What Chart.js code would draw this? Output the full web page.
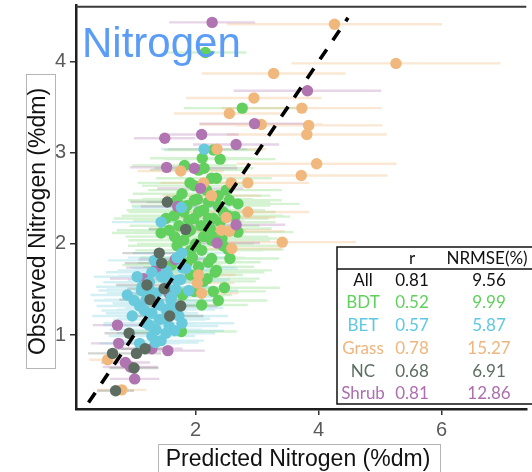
<!DOCTYPE html>
<html><head><meta charset="utf-8">
<script src="https://cdn.jsdelivr.net/npm/chart.js@4/dist/chart.umd.min.js"></script>
<style>html,body{margin:0;padding:0;background:#fff;overflow:hidden}canvas{display:block}</style>
</head><body>
<canvas id="c" width="532" height="472"></canvas>
<script>
// ---- data ----
const panelTitle = 'Nitrogen';
const xTitle = 'Predicted Nitrogen (%dm)';
const yTitle = 'Observed Nitrogen (%dm)';
const xTicks = [2, 4, 6];
const yTicks = [1, 2, 3, 4];
const refLine = [0.26, 4.48];

const bdtX = [2.16,2.76,2.29,2.11,2.40,2.14,2.26,1.91,2.18,1.78, 2.03,2.69,2.64,2.55,2.43,2.26,2.32,2.19,2.10,1.77, 1.95,1.61,2.34,1.79,1.65,1.81,1.97,2.13,2.29,2.45, 1.73,1.92,2.09,2.24,2.40,1.57,1.81,2.00,2.13,1.70, 1.92,2.10,2.26,1.86,2.05,2.13,1.98,2.50,1.98,2.21, 2.37,1.86,1.70,2.53,2.29,2.47,2.56,1.52,1.44, 1.73,1.89,2.05,2.21,2.37,2.53,1.66,1.86,2.29,2.45, 1.98,2.34,2.05,1.82,2.69,2.21,2.37,1.92];
const bdtY = [4.10,3.49,3.03,2.94,2.93,2.83,2.72,2.67,2.59,2.55, 2.49,2.44,2.30,2.48,2.06,2.04,1.69,1.62,1.33,1.04, 1.85,1.77,1.71,1.44,2.31,2.35,2.28,2.37,2.28,2.35, 2.20,2.15,2.20,2.17,2.24,2.15,2.04,2.00,2.08,1.98, 1.93,1.93,1.84,1.79,1.75,1.59,1.48,2.59,2.48,2.46, 2.53,2.42,2.48,1.94,1.48,1.52,1.84,2.28,2.12, 2.37,2.26,2.35,2.28,2.42,2.31,2.08,2.13,2.08,1.98, 2.64,2.72,2.81,2.86,2.13,1.80,1.38,1.66];
const bdtErr = [0.67,0.95,0.80,0.85,0.90,0.80,0.90,0.85,0.95,0.80, 0.90,1.00,0.90,0.85,0.90,0.95,0.80,0.85,0.75,0.90, 0.85,0.80,0.90,0.80,0.85,0.90,0.95,1.00,0.90,0.85, 0.80,0.90,0.95,1.00,0.90,0.85,0.90,0.95,0.85,0.80, 0.90,1.00,0.85,0.80,0.90,0.85,0.80,0.90,0.95,1.00, 0.85,0.90,0.80,0.90,0.85,0.90,0.80,0.85,0.80, 0.85,0.90,0.95,0.90,0.85,0.90,0.80,0.85,0.90,0.95, 0.85,0.90,0.80,0.85,0.90,0.85,0.80,0.85];

const betX = [2.14,1.77,1.44,1.78,1.29,1.79,0.89,1.13,1.36,1.52, 1.68,1.76,1.84,1.09,1.29,1.52,1.73,1.78,1.20,1.36, 1.09,1.29,1.52,1.41,1.57,1.61,1.20,0.97,1.45,1.05, 1.40,1.65,1.25,1.55,1.70,1.35, 1.25,1.60,1.41,1.17,1.66,1.44,1.25,1.00,1.89,1.53, 1.70,1.33,1.12,1.49];
const betY = [3.04,2.40,2.24,1.90,1.69,1.74,1.44,1.53,1.46,1.53, 1.50,1.61,1.73,1.32,1.24,1.28,1.21,1.13,1.13,1.06, 0.91,0.99,1.02,1.17,1.10,1.42,1.39,1.21,1.64,1.64, 1.35,1.30,1.50,1.65,1.85,0.92, 1.58,1.38,1.33,1.27,1.05,0.94,1.11,1.38,1.49,1.71, 1.60,1.82,1.49,1.18];
const betErr = [0.70,0.80,0.80,0.80,0.75,0.85,0.60,0.75,0.80,0.80, 0.85,0.80,0.85,0.70,0.75,0.80,0.80,0.85,0.70,0.75, 0.65,0.70,0.80,0.75,0.80,0.80,0.70,0.65,0.80,0.70, 0.75,0.80,0.70,0.80,0.80,0.70, 0.75,0.80,0.75,0.70,0.80,0.70,0.75,0.65,0.80,0.80, 0.80,0.75,0.70,0.75];

const grassX = [4.26,5.26,3.27,2.95,3.73,2.55,3.07,3.84,3.81,3.97, 3.72,2.85,2.58,1.76,2.13,2.26,2.35,2.85,2.55,2.50, 3.41,2.42,2.59,2.05,2.03,2.10,0.57,0.80];
const grassY = [4.41,3.98,3.87,3.60,3.49,3.43,3.31,3.30,3.20,2.88, 2.75,2.67,2.67,2.80,2.67,2.53,3.04,2.35,2.14,2.29, 2.02,2.15,1.95,1.66,1.57,1.46,0.73,0.40];
const grassErr = [1.75,1.70,1.17,1.10,1.30,0.90,1.00,1.20,1.30,1.30, 1.40,1.00,0.80,0.70,0.70,0.80,0.80,1.00,0.90,0.80, 1.20,0.80,0.80,0.60,0.60,0.60,0.30,0.40];

const ncX = [1.54,1.84,1.41,1.45,1.21,1.49,1.26,1.76,1.58,0.92, 1.04,1.18,0.65,1.00,0.70];
const ncY = [2.46,2.16,1.90,1.79,1.55,1.51,1.39,1.32,1.21,1.02, 0.80,0.85,0.80,0.64,0.39];
const ncErr = [0.60,0.60,0.60,0.60,0.50,0.60,0.50,0.60,0.55,0.40, 0.40,0.45,0.40,0.40,0.30];

const shrubX = [2.27,3.82,2.96,1.50,2.10,2.66,1.53,1.98,2.08,1.71, 2.66,2.35,1.67,1.16,1.37,0.73,0.75,1.29,1.55,0.86, 0.94,1.01,1.57];
const shrubY = [4.43,3.68,3.32,3.16,3.20,3.09,2.84,2.83,2.61,2.41, 2.21,2.01,1.83,1.62,1.74,1.11,0.91,0.85,0.83,0.70, 0.65,0.52,1.46];
const shrubErr = [0.70,1.20,0.90,0.50,0.60,0.70,0.60,0.70,0.70,0.60, 0.80,0.70,0.60,0.55,0.50,0.40,0.45,0.50,0.60,0.40, 0.45,0.40,0.60];

const statNames = ['All','BDT','BET','Grass','NC','Shrub'];
const statR = ['0.81','0.52','0.57','0.78','0.68','0.81'];
const statNRMSE = ['9.56','9.99','5.87','15.27','6.91','12.86'];

// ---- styles ----
const groupColors = {BDT:'#62d05e', BET:'#68cadc', Grass:'#f0b87c', NC:'#5d6c61', Shrub:'#b074b1'};
const barColors = {BDT:'rgba(98,208,94,0.27)', BET:'rgba(104,202,220,0.28)', Grass:'rgba(240,184,124,0.33)', NC:'rgba(93,108,97,0.28)', Shrub:'rgba(176,116,177,0.30)'};
const statColors = ['#111111','#62d05e','#5ec8e0','#efb57e','#5b6e60','#ad6fb0'];

const groups = [
  {name:'NC', X:ncX, Y:ncY, E:ncErr},
  {name:'BET', X:betX, Y:betY, E:betErr},
  {name:'Shrub', X:shrubX, Y:shrubY, E:shrubErr},
  {name:'Grass', X:grassX, Y:grassY, E:grassErr},
  {name:'BDT', X:bdtX, Y:bdtY, E:bdtErr}
];

const datasets = [];
datasets.push({
  type:'line', label:'1:1',
  data: refLine.map(v => ({x:v, y:v})),
  borderColor:'#000', borderWidth:3.6, borderDash:[12,11], pointRadius:0, fill:false, order:0
});
groups.forEach((g, gi) => {
  datasets.push({
    type:'scatter', label:g.name,
    data: g.X.map((x,i) => ({x:x, y:g.Y[i]})),
    backgroundColor: groupColors[g.name], borderWidth:0, pointRadius:5.7, order: 1+gi
  });
});
groups.forEach((g, gi) => {
  const d = [];
  g.X.forEach((x,i) => { d.push({x:x-g.E[i], y:g.Y[i]}); d.push({x:x+g.E[i], y:g.Y[i]}); d.push({x:x, y:null}); });
  datasets.push({
    type:'line', label:g.name+' err', data:d,
    borderColor: barColors[g.name], borderWidth:2.4, pointRadius:0, spanGaps:false, fill:false, order: 20+gi
  });
});

const decor = {
  id:'decor',
  afterDraw(chart){
    const ctx = chart.ctx, a = chart.chartArea;
    ctx.save();
    // top frame line
    ctx.strokeStyle = '#3a3a3a'; ctx.lineWidth = 2;
    ctx.beginPath(); ctx.moveTo(a.left, a.top+1); ctx.lineTo(a.right, a.top+1); ctx.stroke();
    // panel title
    ctx.fillStyle = '#5b9cf7';
    ctx.font = '42px "Liberation Sans", Arial, sans-serif';
    ctx.textAlign = 'left'; ctx.textBaseline = 'alphabetic';
    ctx.fillText(panelTitle, 82, 57);
    // stats table
    const tx = 337, ty = 247, tw = 200, th = 157;
    ctx.fillStyle = '#fff'; ctx.fillRect(tx, ty, tw, th);
    ctx.strokeStyle = '#111'; ctx.lineWidth = 1.5;
    ctx.strokeRect(tx, ty, tw, th);
    ctx.beginPath(); ctx.moveTo(tx, 269); ctx.lineTo(tx+tw, 269); ctx.stroke();
    ctx.font = '17px Lato, "Open Sans", sans-serif';
    ctx.textAlign = 'center'; ctx.textBaseline = 'middle';
    ctx.fillStyle = '#111';
    ctx.fillText('r', 412, 259);
    ctx.fillText('NRMSE(%)', 487, 259);
    const rowY = [281, 303, 326, 349, 372, 394];
    statNames.forEach((n,i) => {
      ctx.fillStyle = statColors[i];
      ctx.fillText(n, 363, rowY[i]);
      ctx.fillText(statR[i], 412, rowY[i]);
      ctx.fillText(statNRMSE[i], 489, rowY[i]);
    });
    // axis titles with boxes
    ctx.strokeStyle = '#b5b5b5'; ctx.lineWidth = 1;
    ctx.strokeRect(26.5, 74.5, 29, 294);
    ctx.strokeRect(158.5, 444.5, 282, 40);
    ctx.fillStyle = '#111';
    ctx.font = '23px "Liberation Sans", Arial, sans-serif';
    ctx.textAlign = 'center'; ctx.textBaseline = 'alphabetic';
    ctx.fillText(xTitle, 298, 466);
    ctx.translate(45, 221.5); ctx.rotate(-Math.PI/2);
    ctx.fillText(yTitle, 0, 0);
    ctx.restore();
  }
};

const tickFont = {family:'"Liberation Sans", Arial, sans-serif', size:20};
new Chart(document.getElementById('c'), {
  type:'scatter',
  data:{datasets},
  options:{
    responsive:false, animation:false, devicePixelRatio:1, events:[],
    layout:{padding:{top:5, right:0, left:0, bottom:0}},
    plugins:{legend:{display:false}, tooltip:{enabled:false}},
    scales:{
      x:{type:'linear', min:0.056, max:7.38,
        afterBuildTicks: s => { s.ticks = xTicks.map(v => ({value:v})); },
        afterFit: s => { s.height = 63; s.paddingLeft = 0; s.paddingRight = 0; },
        grid:{display:true, drawOnChartArea:false, drawTicks:true, tickLength:6, color:'#333', lineWidth:1.5},
        border:{display:true, color:'#1e1e1e', width:2.5},
        ticks:{font:tickFont, color:'#5a5a5a', padding:3, maxRotation:0, autoSkip:false}
      },
      y:{type:'linear', min:0.19, max:4.613,
        afterBuildTicks: s => { s.ticks = yTicks.map(v => ({value:v})); },
        afterFit: s => { s.width = 76; s.paddingTop = 0; s.paddingBottom = 0; },
        grid:{display:true, drawOnChartArea:false, drawTicks:true, tickLength:6, color:'#333', lineWidth:1.5},
        border:{display:true, color:'#1e1e1e', width:2.5},
        ticks:{font:tickFont, color:'#5a5a5a', padding:4, autoSkip:false}
      }
    }
  },
  plugins:[decor]
});
</script>
</body></html>
